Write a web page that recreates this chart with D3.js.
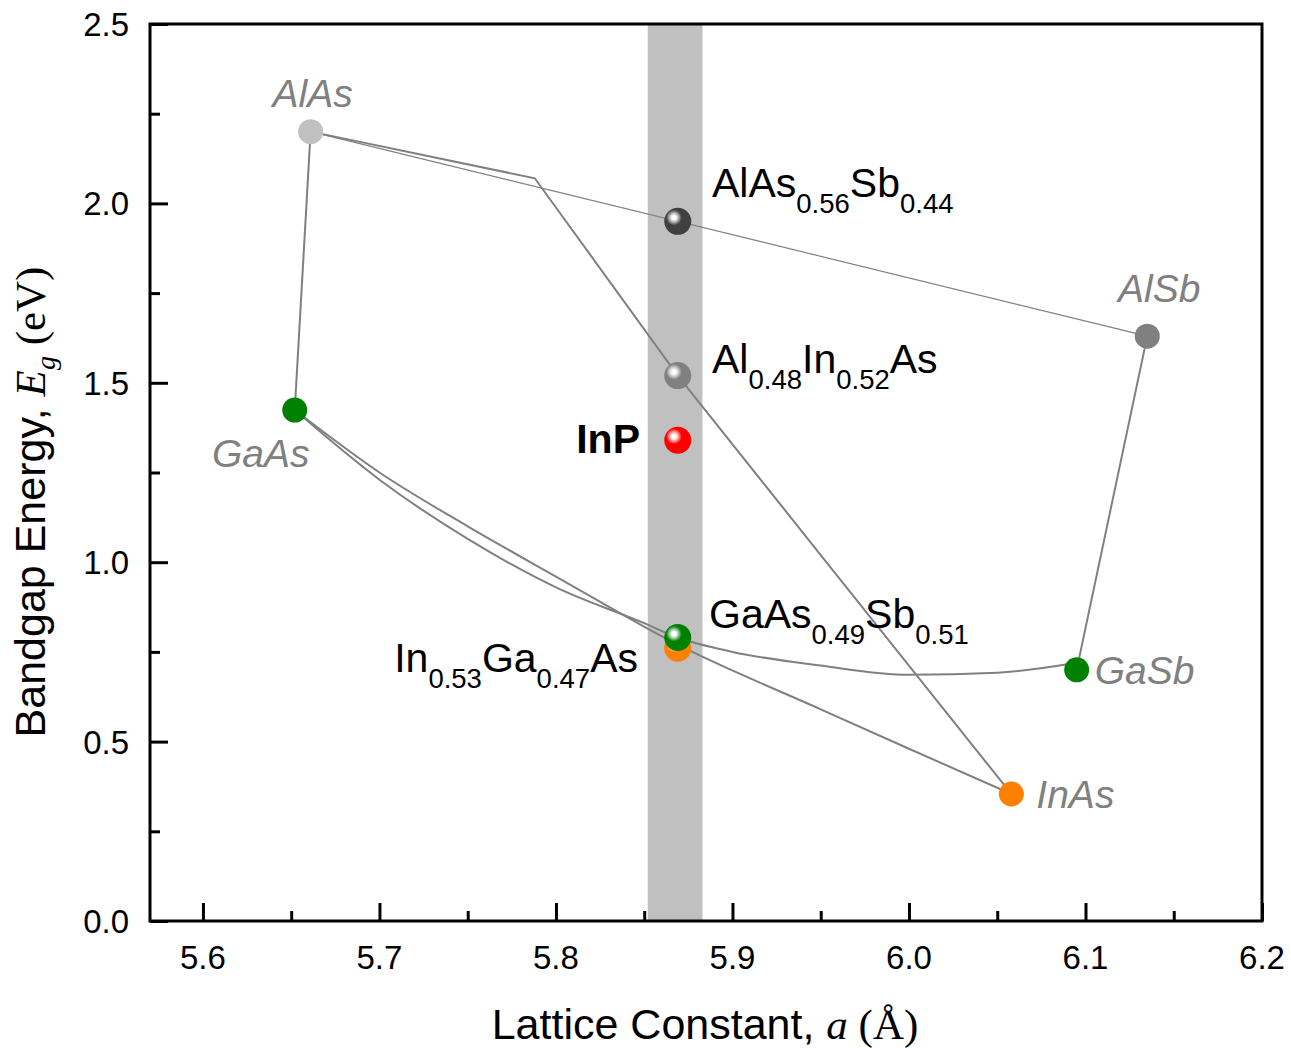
<!DOCTYPE html>
<html>
<head>
<meta charset="utf-8">
<script src="https://cdn.jsdelivr.net/npm/d3@7"></script>
<style>
  body { margin: 0; background: #fff; }
  svg { display: block; }
  text { font-family: Arial, "Liberation Sans", sans-serif; }
</style>
</head>
<body>
<div id="chart"></div>
<script>
// binary end points: lattice constant (A), bandgap (eV)
const binaries = [
  { name: "AlAs", a: 5.661, eg: 2.20, color: "#c0c0c0" },
  { name: "AlSb", a: 6.135, eg: 1.63, color: "#808080" },
  { name: "GaAs", a: 5.652, eg: 1.424, color: "#008000" },
  { name: "GaSb", a: 6.095, eg: 0.70, color: "#008000" },
  { name: "InAs", a: 6.058, eg: 0.354, color: "#ff8000" }
];

// lattice matched alloys on InP
const matched = [
  { name: "AlAsSb", a: 5.869, eg: 1.95, color: "#404040" },
  { name: "AlInAs", a: 5.869, eg: 1.52, color: "#808080" },
  { name: "InP", a: 5.869, eg: 1.34, color: "#ff0000" },
  { name: "InGaAs", a: 5.869, eg: 0.76, color: "#ff8000" },
  { name: "GaAsSb", a: 5.869, eg: 0.79, color: "#008000" }
];

// connecting curves [a, eg]
const curveAlAsGaAs = [[5.661, 2.20], [5.652, 1.424]];
const curveAlSbGaSb = [[6.135, 1.63], [6.095, 0.70]];
const curveAlAsAlSb = [[5.661, 2.20], [6.135, 1.63]];
const curveAlInAs = [[5.661, 2.20], [5.788, 2.07], [5.869, 1.52], [5.95, 1.02], [6.058, 0.354]];
const curveGaAsSb = [[5.652, 1.424], [5.70, 1.23], [5.75, 1.065], [5.80, 0.93], [5.85, 0.83],
  [5.869, 0.79], [5.90, 0.75], [5.95, 0.712], [6.00, 0.686], [6.05, 0.692], [6.095, 0.72]];
const curveInGaAs = [[5.652, 1.424], [5.70, 1.25], [5.75, 1.10], [5.80, 0.96], [5.869, 0.77],
  [5.95, 0.59], [6.00, 0.48], [6.058, 0.354]];

const bandRange = [5.852, 5.883];
const xTicks = [5.6, 5.7, 5.8, 5.9, 6.0, 6.1, 6.2];
const yTicks = [0.0, 0.5, 1.0, 1.5, 2.0, 2.5];

const width = 1291, height = 1048;
const serif = "'Liberation Serif', 'Times New Roman', serif";
const svg = d3.select("#chart").append("svg")
  .attr("width", width)
  .attr("height", height);

const x = d3.scaleLinear().domain([5.57, 6.2]).range([150, 1262]);
const y = d3.scaleLinear().domain([0, 2.5]).range([921, 24]);

// gray band at InP lattice constant
svg.append("rect")
  .attr("x", x(bandRange[0]))
  .attr("y", y(2.5))
  .attr("width", x(bandRange[1]) - x(bandRange[0]))
  .attr("height", y(0) - y(2.5))
  .attr("fill", "#c0c0c0");

const line = d3.line().x(d => x(d[0])).y(d => y(d[1]));

svg.append("path").datum(curveAlAsAlSb)
  .attr("d", line).attr("fill", "none").attr("stroke", "#808080").attr("stroke-width", 1.2);

[curveAlAsGaAs, curveAlSbGaSb, curveAlInAs].forEach(c => {
  svg.append("path").datum(c)
    .attr("d", line).attr("fill", "none").attr("stroke", "#808080").attr("stroke-width", 2);
});

const smooth = d3.line().x(d => x(d[0])).y(d => y(d[1])).curve(d3.curveMonotoneX);
[curveGaAsSb, curveInGaAs].forEach(c => {
  svg.append("path").datum(c)
    .attr("d", smooth).attr("fill", "none").attr("stroke", "#808080").attr("stroke-width", 2);
});

// axes frame
const xAxis = d3.axisBottom(x).tickValues(d3.range(5.6, 6.201, 0.05)).tickSize(0).tickFormat("");
const gx = svg.append("g").attr("transform", `translate(0,${y(0)})`).call(xAxis);
gx.select(".domain").remove();
gx.selectAll(".tick line")
  .attr("y2", (d, i) => i % 2 === 0 ? -18 : -10)
  .attr("stroke", "#000").attr("stroke-width", 3);

const gy = svg.append("g").attr("transform", `translate(${x(5.57)},0)`)
  .call(d3.axisLeft(y).tickValues(d3.range(0, 2.501, 0.25)).tickSize(0).tickFormat(""));
gy.select(".domain").remove();
gy.selectAll(".tick line")
  .attr("x2", (d, i) => i % 2 === 0 ? 18 : 10)
  .attr("stroke", "#000").attr("stroke-width", 3);

svg.append("rect")
  .attr("x", x(5.57)).attr("y", y(2.5))
  .attr("width", x(6.2) - x(5.57)).attr("height", y(0) - y(2.5))
  .attr("fill", "none").attr("stroke", "#000").attr("stroke-width", 3);

svg.selectAll(".xlab").data(xTicks).enter().append("text")
  .attr("x", d => x(d)).attr("y", 969)
  .attr("text-anchor", "middle").attr("font-size", 33)
  .text(d => d.toFixed(1));

svg.selectAll(".ylab").data(yTicks).enter().append("text")
  .attr("x", 129).attr("y", d => y(d) + 12)
  .attr("text-anchor", "end").attr("font-size", 33)
  .text(d => d.toFixed(1));

// axis titles
const xt = svg.append("text").attr("x", 705).attr("y", 1039)
  .attr("text-anchor", "middle").attr("font-size", 43);
xt.append("tspan").text("Lattice Constant, ");
xt.append("tspan").attr("font-family", serif).attr("font-style", "italic").text("a");
xt.append("tspan").attr("font-family", serif).text(" (Å)");

const yt = svg.append("text").attr("transform", "translate(45,502) rotate(-90)")
  .attr("text-anchor", "middle").attr("font-size", 43);
yt.append("tspan").text("Bandgap Energy, ");
yt.append("tspan").attr("font-family", serif).attr("font-style", "italic").text("E");
yt.append("tspan").attr("font-family", serif)
  .attr("font-style", "italic").attr("font-size", 28).attr("dy", 10).text("g");
yt.append("tspan").attr("font-family", serif).attr("dy", -10).text(" (eV)");

// markers
const defs = svg.append("defs");
matched.forEach((d, i) => {
  const g = defs.append("radialGradient").attr("id", "ball" + i)
    .attr("cx", 0.36).attr("cy", 0.36).attr("r", 0.64).attr("fx", 0.36).attr("fy", 0.36);
  g.append("stop").attr("offset", "0%").attr("stop-color", "#fff");
  g.append("stop").attr("offset", "12%").attr("stop-color", "#fff");
  g.append("stop").attr("offset", "28%").attr("stop-color", d3.interpolateRgb(d.color, "#fff")(0.55));
  g.append("stop").attr("offset", "45%").attr("stop-color", d.color);
  g.append("stop").attr("offset", "100%").attr("stop-color", d.color);
});

svg.selectAll(".bin").data(binaries).enter().append("circle")
  .attr("cx", d => x(d.a)).attr("cy", d => y(d.eg)).attr("r", 12.5)
  .attr("fill", d => d.color);

svg.selectAll(".mat").data(matched).enter().append("circle")
  .attr("cx", d => x(d.a)).attr("cy", d => y(d.eg)).attr("r", 13.5)
  .attr("fill", (d, i) => `url(#ball${i})`);

// binary labels
const binLabels = [
  { text: "AlAs", a: 5.661, eg: 2.20, dx: 2, dy: -25, anchor: "middle" },
  { text: "AlSb", a: 6.135, eg: 1.63, dx: 12, dy: -34, anchor: "middle" },
  { text: "GaAs", a: 5.652, eg: 1.424, dx: -34, dy: 57, anchor: "middle" },
  { text: "GaSb", a: 6.095, eg: 0.70, dx: 18, dy: 14, anchor: "start" },
  { text: "InAs", a: 6.058, eg: 0.354, dx: 25, dy: 14, anchor: "start" }
];
svg.selectAll(".binlab").data(binLabels).enter().append("text")
  .attr("x", d => x(d.a) + d.dx).attr("y", d => y(d.eg) + d.dy)
  .attr("text-anchor", d => d.anchor)
  .attr("font-size", 39).attr("font-style", "italic").attr("fill", "#808080")
  .text(d => d.text);

// alloy labels with subscripts
function formula(px, py, parts, anchor) {
  const t = svg.append("text").attr("x", px).attr("y", py)
    .attr("font-size", 41).attr("text-anchor", anchor || "start");
  let shifted = false;
  parts.forEach(p => {
    const sub = typeof p === "object";
    const ts = t.append("tspan").text(sub ? p.s : p);
    if (sub && !shifted) { ts.attr("dy", 16).attr("font-size", 27.5); shifted = true; }
    else if (sub) { ts.attr("font-size", 27.5); }
    else if (shifted) { ts.attr("dy", -16); shifted = false; }
  });
  return t;
}
formula(712, 197, ["AlAs", { s: "0.56" }, "Sb", { s: "0.44" }]);
formula(712, 373, ["Al", { s: "0.48" }, "In", { s: "0.52" }, "As"]);
formula(709, 628, ["GaAs", { s: "0.49" }, "Sb", { s: "0.51" }]);
formula(638, 672, ["In", { s: "0.53" }, "Ga", { s: "0.47" }, "As"], "end");

svg.append("text").attr("x", 640).attr("y", 453)
  .attr("text-anchor", "end").attr("font-size", 41).attr("font-weight", "bold")
  .text("InP");
</script>
</body>
</html>
